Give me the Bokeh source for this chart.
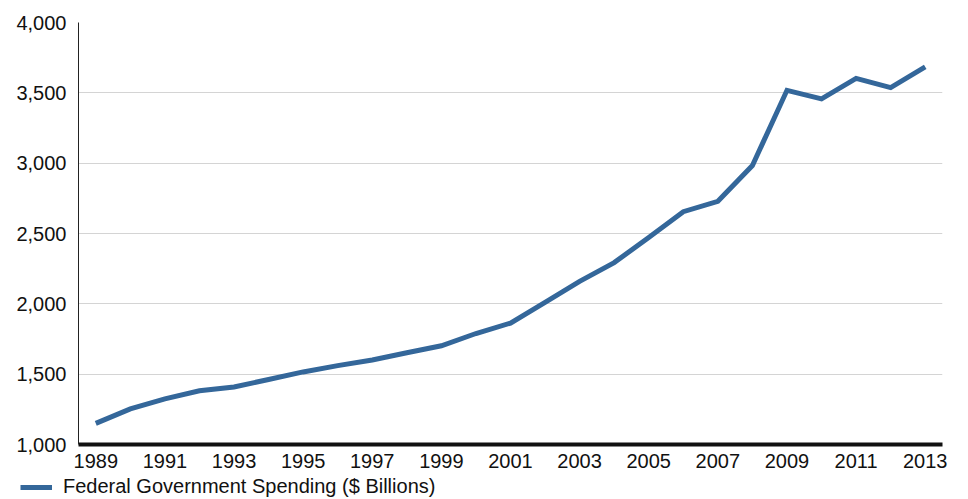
from bokeh.plotting import figure
from bokeh.layouts import column
from bokeh.models import Range1d, FixedTicker, NumeralTickFormatter, Legend, LegendItem
from bokeh.embed import file_html
from bokeh.resources import INLINE

years = list(range(1989, 2014))
spending = [1150, 1253, 1324, 1382, 1409, 1462, 1516, 1561, 1601, 1652, 1702,
            1789, 1863, 2011, 2160, 2293, 2472, 2655, 2729, 2983, 3518, 3457,
            3603, 3537, 3685]
series_name = "Federal Government Spending ($ Billions)"
x_ticks = list(range(1989, 2014, 2))
y_ticks = [1000, 1500, 2000, 2500, 3000, 3500, 4000]

FONT = "Liberation Sans"
LINE_COLOR = "#34679a"

p = figure(width=968, height=472, output_backend="svg", toolbar_location=None,
           x_range=Range1d(1988.5, 2013.5), y_range=Range1d(1000, 4000),
           min_border_left=78, min_border_right=26, min_border_top=22,
           min_border_bottom=28)
p.frame_align = False
p.outline_line_color = None
p.border_fill_color = "white"
p.background_fill_color = "white"

p.line(years, spending, line_color=LINE_COLOR, line_width=5, line_join="miter")

p.xaxis.ticker = FixedTicker(ticks=x_ticks)
p.yaxis.ticker = FixedTicker(ticks=y_ticks)
p.yaxis.formatter = NumeralTickFormatter(format="0,0")

for ax in (p.xaxis[0], p.yaxis[0]):
    ax.major_tick_line_color = None
    ax.minor_tick_line_color = None
    ax.major_label_text_font = FONT
    ax.major_label_text_font_size = "20px"
    ax.major_label_text_color = "#111111"

p.xaxis.axis_line_color = "#111111"
p.xaxis.axis_line_width = 4
p.xaxis.major_label_standoff = 3
p.yaxis.axis_line_color = "#222222"
p.yaxis.axis_line_width = 1
p.yaxis.major_label_standoff = 6

p.xgrid.grid_line_color = None
p.ygrid.grid_line_color = "#d4d4d4"
p.ygrid.grid_line_width = 1

# legend strip below the chart
lg = figure(width=968, height=27, output_backend="svg", toolbar_location=None,
            x_range=Range1d(0, 1), y_range=Range1d(0, 1),
            x_axis_type=None, y_axis_type=None,
            min_border_left=0, min_border_right=0, min_border_top=0,
            min_border_bottom=0)
lg.frame_align = False
lg.outline_line_color = None
lg.xgrid.visible = False
lg.ygrid.visible = False
dummy = lg.line([5, 6], [5, 6], line_color=LINE_COLOR, line_width=5)

legend = Legend(items=[LegendItem(label=series_name, renderers=[dummy])],
                location=(20, 1), padding=0, margin=0,
                glyph_width=32, glyph_height=20, label_height=20,
                label_standoff=11, spacing=0,
                label_text_font=FONT, label_text_font_size="20px",
                label_text_color="#111111",
                border_line_color=None, background_fill_alpha=0)
lg.add_layout(legend, "center")

layout = column(p, lg, spacing=0)
open("out.html", "w").write(file_html(layout, INLINE))
